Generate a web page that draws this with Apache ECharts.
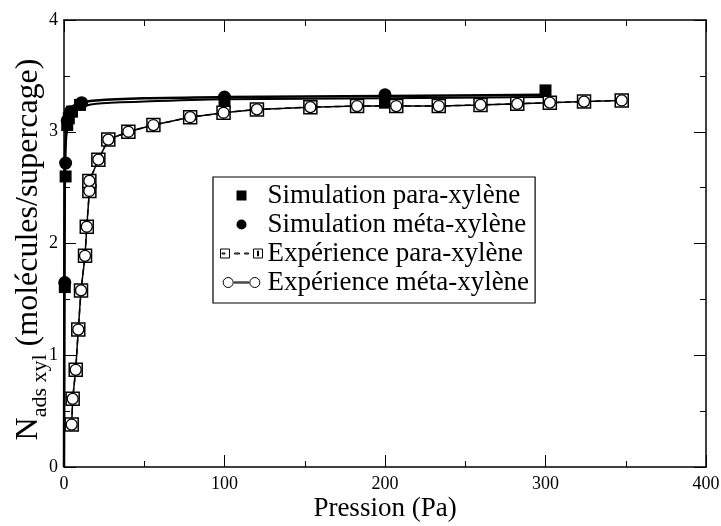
<!DOCTYPE html>
<html>
<head>
<meta charset="utf-8">
<script src="https://cdn.jsdelivr.net/npm/echarts@6/dist/echarts.min.js"></script>
<style>
  html, body { margin: 0; padding: 0; background: #fff; }
  #chart { width: 721px; height: 526px; }
</style>
</head>
<body>
<div id="chart"></div>
<script>
// Adsorption isotherms of xylenes (Pa vs molecules per supercage)

// Experimental isotherm pressures (Pa)
const expPressure = [4.8, 5.4, 7.3, 8.9, 10.6, 13.1, 14.2, 15.8, 15.8, 21.4, 27.6, 40.1, 55.7, 78.6, 99.4, 120.2, 153.5, 182.6, 207, 233.5, 259.5, 282.4, 302.7, 324, 347.5];
// Experimental loadings, para-xylene
const expPara = [0.38, 0.61, 0.87, 1.23, 1.58, 1.89, 2.15, 2.47, 2.56, 2.75, 2.93, 3.0, 3.06, 3.13, 3.17, 3.2, 3.22, 3.23, 3.23, 3.23, 3.24, 3.25, 3.26, 3.27, 3.28];
// Experimental loadings, meta-xylene
const expMeta = [0.38, 0.61, 0.87, 1.23, 1.58, 1.89, 2.15, 2.47, 2.56, 2.75, 2.93, 3.0, 3.06, 3.13, 3.17, 3.2, 3.22, 3.23, 3.23, 3.23, 3.24, 3.25, 3.26, 3.27, 3.28];

// Simulated loadings
const simParaPressure = [0.5, 1, 2, 3, 5, 10, 100, 200, 300];
const simPara = [1.61, 2.6, 3.06, 3.12, 3.18, 3.24, 3.26, 3.26, 3.37];
const simMetaPressure = [0.5, 1, 2, 4, 11, 100, 200];
const simMeta = [1.65, 2.72, 3.1, 3.18, 3.26, 3.31, 3.33];

// Fitted isotherm curves through the simulation points
const fitPressure = [0, 0.3, 0.6, 1, 2, 4, 8, 20, 50, 100, 200, 300];
const fitMeta = [0, 2.0, 2.7, 2.95, 3.1, 3.2, 3.25, 3.28, 3.3, 3.31, 3.32, 3.33];
const fitPara = [0, 1.8, 2.55, 2.85, 3.02, 3.13, 3.2, 3.25, 3.27, 3.29, 3.3, 3.31];

// Axis ticks
const xTicks = [0, 100, 200, 300, 400];
const yTicks = [0, 1, 2, 3, 4];

// Legend entries
const legendNames = ['Simulation para-xylène', 'Simulation méta-xylène', 'Expérience para-xylène', 'Expérience méta-xylène'];

const FONT = 'Liberation Serif';
const zip = (xs, ys) => xs.map((x, i) => [x, ys[i]]);

// Legend glyphs: single marker, or marker - dash - marker
const ICON_SQUARE = 'path://M0,0h10v10h-10z';
const ICON_CIRCLE = 'path://M0,5a5,5 0 1,0 10,0a5,5 0 1,0 -10,0z';
const ICON_SQ_PAIR = 'path://M0,0h9v9h-9z M14,4h5v1h-5z M24,4h4v1h-4z M33,0h9v9h-9z M1.5,4h3v1h-3z M37,2v5h1v-5z';
const ICON_CI_PAIR = 'path://M0,4.5a4.5,4.5 0 1,0 9,0a4.5,4.5 0 1,0 -9,0z M10,4h13v1h-13z M24,4.5a4.5,4.5 0 1,0 9,0a4.5,4.5 0 1,0 -9,0z';

const axisCommon = {
  axisLine: { onZero: false, lineStyle: { color: '#000', width: 1.5 } },
  axisTick: { inside: true, length: 12, lineStyle: { color: '#000', width: 1 } },
  minorTick: { show: true, splitNumber: 2, length: 6, lineStyle: { color: '#000', width: 1 } },
  splitLine: { show: false },
  axisLabel: { color: '#000', fontFamily: FONT, fontSize: 18 }
};

const chart = echarts.init(document.getElementById('chart'), null, { renderer: 'canvas' });

chart.setOption({
  animation: false,
  backgroundColor: '#fff',
  grid: { left: 64, right: 15, top: 20, bottom: 59, containLabel: false, outerBoundsMode: 'none' },
  xAxis: [
    Object.assign({}, axisCommon, {
      type: 'value', min: xTicks[0], max: xTicks[xTicks.length - 1], interval: 100,
      name: 'Pression (Pa)', nameLocation: 'middle', nameGap: 28, nameMoveOverlap: false,
      nameTextStyle: { color: '#000', fontFamily: FONT, fontSize: 27 },
      axisLabel: Object.assign({}, axisCommon.axisLabel, { margin: 8 })
    }),
    Object.assign({}, axisCommon, {
      type: 'value', position: 'top', min: xTicks[0], max: xTicks[xTicks.length - 1], interval: 100,
      axisLabel: { show: false }
    })
  ],
  yAxis: [
    Object.assign({}, axisCommon, {
      type: 'value', min: yTicks[0], max: yTicks[yTicks.length - 1], interval: 1,
      name: '{n|N}{s|ads xyl}{n| (molécules/supercage)}',
      nameLocation: 'middle', nameRotate: 90, nameGap: 13, nameMoveOverlap: false,
      nameTextStyle: {
        color: '#000', fontFamily: FONT, fontSize: 32, padding: [0, 12, 0, 0],
        rich: {
          n: { fontFamily: FONT, fontSize: 32, color: '#000', lineHeight: 38, verticalAlign: 'top' },
          s: { fontFamily: FONT, fontSize: 22, color: '#000', lineHeight: 23, verticalAlign: 'bottom' }
        }
      },
      axisLabel: Object.assign({}, axisCommon.axisLabel, { margin: 6 })
    }),
    Object.assign({}, axisCommon, {
      type: 'value', position: 'right', min: yTicks[0], max: yTicks[yTicks.length - 1], interval: 1,
      axisLabel: { show: false }
    })
  ],
  legend: {
    orient: 'vertical', left: 213, top: 177,
    backgroundColor: '#fff', borderColor: '#000', borderWidth: 1.2,
    padding: [5, 6, 7, 7], itemGap: 2, itemWidth: 42, itemHeight: 10,
    textStyle: { color: '#000', fontFamily: FONT, fontSize: 27 },
    data: [
      { name: legendNames[0], icon: ICON_SQUARE },
      { name: legendNames[1], icon: ICON_CIRCLE },
      { name: legendNames[2], icon: ICON_SQ_PAIR, itemStyle: { color: '#fff', borderColor: '#000', borderWidth: 1 } },
      { name: legendNames[3], icon: ICON_CI_PAIR, itemStyle: { color: '#fff', borderColor: '#000', borderWidth: 1 } }
    ]
  },
  series: [
    {
      name: 'fit méta', type: 'line', data: zip(fitPressure, fitMeta),
      showSymbol: false, symbol: 'none', smooth: 0.3,
      lineStyle: { color: '#000', width: 2.5 }, z: 2, silent: true
    },
    {
      name: 'fit para', type: 'line', data: zip(fitPressure, fitPara),
      showSymbol: false, symbol: 'none', smooth: 0.3,
      lineStyle: { color: '#000', width: 2 }, z: 2, silent: true
    },
    {
      name: legendNames[0], type: 'scatter', data: zip(simParaPressure, simPara),
      symbol: 'rect', symbolSize: 12, itemStyle: { color: '#000', opacity: 1 }, z: 3
    },
    {
      name: legendNames[1], type: 'scatter', data: zip(simMetaPressure, simMeta),
      symbol: 'circle', symbolSize: 13, itemStyle: { color: '#000', opacity: 1 }, z: 3
    },
    {
      name: legendNames[2], type: 'line', data: zip(expPressure, expPara),
      symbol: 'rect', symbolSize: 13, showAllSymbol: true,
      lineStyle: { color: '#000', width: 1.5, type: [6, 4] },
      itemStyle: { color: '#fff', borderColor: '#000', borderWidth: 1.5 }, z: 4
    },
    {
      name: legendNames[3], type: 'line', data: zip(expPressure, expMeta),
      symbol: 'circle', symbolSize: 11, showAllSymbol: true,
      lineStyle: { color: '#000', width: 1.5 },
      itemStyle: { color: '#fff', borderColor: '#000', borderWidth: 1.3 }, z: 5
    }
  ]
});
</script>
</body>
</html>
